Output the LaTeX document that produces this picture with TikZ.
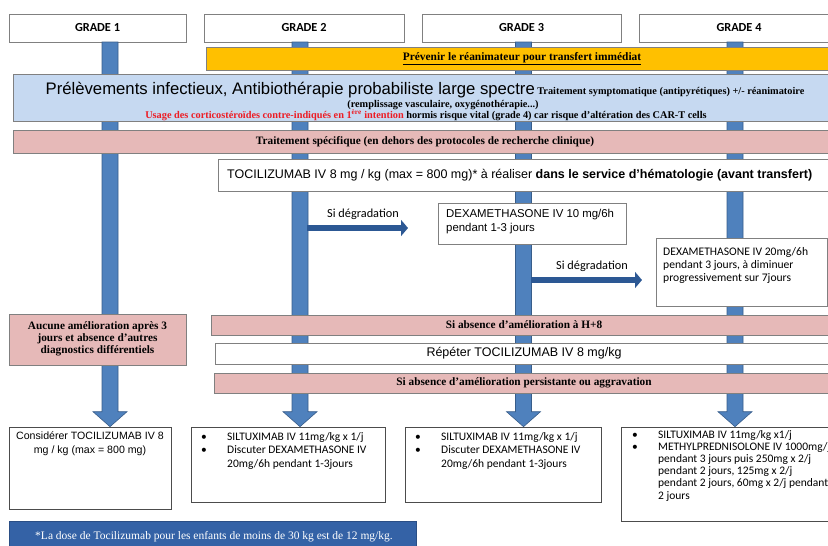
\documentclass[tikz,border=0pt]{standalone}
\usepackage{fontspec}
\setmainfont{Liberation Serif}
\newfontfamily\arial{Liberation Sans}
\newfontfamily\calibri{Carlito}
\usetikzlibrary{positioning,calc,arrows.meta}
\definecolor{barblue}{RGB}{79,129,189}
\definecolor{bardark}{RGB}{56,93,138}
\definecolor{arrowblue}{RGB}{44,88,148}
\definecolor{warnorange}{RGB}{255,192,0}
\definecolor{infoblue}{RGB}{198,217,241}
\definecolor{pinkfill}{RGB}{230,185,184}
\definecolor{boxgray}{RGB}{128,128,128}
\definecolor{footblue}{RGB}{52,98,166}
\definecolor{alertred}{RGB}{237,28,36}

\newcommand\bul{\makebox[26pt][l]{\textbullet}}
\newcommand\ind{\hspace*{26pt}}
% block arrow along a grade column
\newcommand\colarrow[2]{%
  \filldraw[fill=barblue, draw=bardark, line width=0.6pt]
    ($(#1)+(-8,0)$) -- ($(#2)+(-8,-15)$) -- ($(#2)+(-17,-15)$) -- (#2)
    -- ($(#2)+(17,-15)$) -- ($(#2)+(8,-15)$) -- ($(#1)+(8,0)$) -- cycle;}

\begin{document}
\begin{tikzpicture}[
    x=1pt, y=-1pt,
    grade/.style={rectangle, draw=boxgray, fill=white, line width=0.6pt, minimum width=#1, minimum height=28pt, inner sep=0pt, font=\calibri\bfseries\fontsize{12.3}{14}\selectfont},
    grade/.default=200pt,
    warnbar/.style={rectangle, draw=boxgray, fill=warnorange, line width=0.6pt, inner sep=0pt},
    infobox/.style={rectangle, draw=boxgray, fill=infoblue, line width=0.6pt, inner sep=0pt},
    pinkbar/.style={rectangle, draw=boxgray, fill=pinkfill, line width=0.6pt, inner sep=0pt},
    whitebox/.style={rectangle, draw=boxgray, fill=white, line width=0.6pt, inner sep=0pt},
    bulletbox/.style={rectangle, draw=black!70, fill=white, line width=0.6pt, inner sep=0pt},
    serifbold/.style={font=\bfseries\fontsize{11.3}{12}\selectfont},
    txt/.style={inner sep=0pt, align=left},
    degarrow/.style={draw=arrowblue, line width=6pt, -{Triangle[length=7pt,width=16pt]}},
    degtext/.style={font=\calibri\fontsize{12.3}{14}\selectfont, inner sep=0pt}
]
\useasboundingbox (0,0) rectangle (828,546);

% grade headers
\node[grade=177pt] (g1) at (97.5,28) {GRADE 1};
\node[grade=200pt] (g2) at (304,28) {GRADE 2};
\node[grade=199pt] (g3) at (521.5,28) {GRADE 3};
\node[grade=200pt] (g4) at (739,28) {GRADE 4};

% bottom boxes (placed first so the columns can end on them)
\node[bulletbox, minimum width=162pt, minimum height=82pt] (b1) at (90,468) {};
\node[bulletbox, minimum width=194pt, minimum height=75pt] (b2) at (288,464.5) {};
\node[bulletbox, minimum width=196pt, minimum height=75pt] (b3) at (503,464.5) {};
\node[bulletbox, minimum width=219pt, minimum height=94pt] (b4) at (730.5,474) {};

% columns
\coordinate (c1) at (110,42);
\coordinate (c2) at (300,42);
\coordinate (c3) at (523.5,42);
\coordinate (c4) at (735,42);
\colarrow{c1}{c1 |- b1.north}
\colarrow{c2}{c2 |- b2.north}
\colarrow{c3}{c3 |- b3.north}
\colarrow{c4}{c4 |- b4.north}

% common bars
\node[warnbar, minimum width=632pt, minimum height=23pt] (warn) at (522,58.5) {};
\node[font=\bfseries\fontsize{11.4}{12}\selectfont, inner sep=0pt] (warntxt) at (522,58.5) {\underline{Prévenir le réanimateur pour transfert immédiat}};

\node[infobox, minimum width=834pt, minimum height=47pt] (info) at (430,97.5) {};
\node[txt, anchor=base] (info1) at (425,94) {{\arial\fontsize{16.7}{18}\selectfont Prélèvements infectieux, Antibiothérapie probabiliste large spectre} {\bfseries\fontsize{10.3}{11}\selectfont Traitement symptomatique (antipyrétiques) +/- réanimatoire}};
\node[txt, anchor=base, font=\bfseries\fontsize{10.3}{11}\selectfont] (info2) at (443,107) {(remplissage vasculaire, oxygénothérapie...)};
\node[txt, anchor=base, font=\bfseries\fontsize{10.3}{11}\selectfont] (info3) at (426,118.5) {\textcolor{alertred}{Usage des corticostéroïdes contre-indiqués en 1\textsuperscript{ère} intention} hormis risque vital (grade 4) car risque d'altération des CAR-T cells};

\node[pinkbar, minimum width=834pt, minimum height=23pt] (spec) at (430,141.5) {};
\node[serifbold, inner sep=0pt] (spectxt) at (425,141.5) {Traitement spécifique (en dehors des protocoles de recherche clinique)};

\node[whitebox, minimum width=622pt, minimum height=32pt] (toci) at (529,175) {};
\node[txt, anchor=west, font=\arial\fontsize{12.5}{14}\selectfont] (tocitxt) at (227,175) {TOCILIZUMAB IV 8 mg / kg (max = 800 mg)* à réaliser \textbf{dans le service d’hématologie (avant transfert)}};

% escalation grade 3 / grade 4
\node[whitebox, minimum width=188pt, minimum height=41pt] (dexa1) at (532,223.5) {};
\node[txt, anchor=north west, font=\arial\fontsize{11.4}{14}\selectfont] (dexa1txt) at (446,209) {DEXAMETHASONE IV 10 mg/6h\\pendant 1-3 jours};
\coordinate (d1s) at (307,228);
\coordinate (d1e) at (408,228);
\draw[degarrow] (d1s) -- (d1e);
\node[degtext] (deg1) at (363,214) {Si dégradation};

\node[whitebox, minimum width=171pt, minimum height=68pt] (dexa2) at (741.5,272) {};
\node[txt, anchor=north west, font=\calibri\fontsize{11.6}{13}\selectfont] (dexa2txt) at (663,247) {DEXAMETHASONE IV 20mg/6h\\pendant 3 jours, à diminuer\\progressivement sur 7jours};
\coordinate (d2s) at (531,280);
\coordinate (d2e) at (642,280);
\draw[degarrow] (d2s) -- (d2e);
\node[degtext] (deg2) at (592,266) {Si dégradation};

% grade 1 condition
\node[pinkbar, minimum width=177pt, minimum height=51pt] (noimp) at (97.5,339.5) {};
\node[align=center, font=\bfseries\fontsize{11.3}{12}\selectfont, inner sep=0pt] (noimptxt) at (97.5,339) {Aucune amélioration après 3\\jours et absence d'autres\\diagnostics différentiels};

% grades 2-4 conditions
\node[pinkbar, minimum width=629pt, minimum height=20pt] (h8) at (525.5,325) {};
\node[serifbold, inner sep=0pt] (h8txt) at (524,325) {Si absence d'amélioration à H+8};
\node[whitebox, minimum width=625pt, minimum height=21pt] (rep) at (527.5,353.5) {};
\node[font=\arial\fontsize{12.5}{14}\selectfont, inner sep=0pt] (reptxt) at (524,353.5) {Répéter TOCILIZUMAB IV 8 mg/kg};
\node[pinkbar, minimum width=626pt, minimum height=20pt] (pers) at (527,383) {};
\node[serifbold, inner sep=0pt] (perstxt) at (524,383) {Si absence d'amélioration persistante ou aggravation};

% bottom texts
\node[align=center, anchor=north, font=\arial\fontsize{10.6}{14}\selectfont, inner sep=0pt] (b1txt) at (90,431) {Considérer TOCILIZUMAB IV 8\\mg / kg (max = 800 mg)};
\node[txt, anchor=north west, font=\calibri\fontsize{11.5}{13.5}\selectfont] (b2txt) at (201,432) {\bul SILTUXIMAB IV 11mg/kg x 1/j\\\bul Discuter DEXAMETHASONE IV\\\ind 20mg/6h pendant 1-3jours};
\node[txt, anchor=north west, font=\calibri\fontsize{11.5}{13.5}\selectfont] (b3txt) at (415,432) {\bul SILTUXIMAB IV 11mg/kg x 1/j\\\bul Discuter DEXAMETHASONE IV\\\ind 20mg/6h pendant 1-3jours};
\node[txt, anchor=north west, font=\calibri\fontsize{11.5}{12.2}\selectfont] (b4txt) at (632,430) {\bul SILTUXIMAB IV 11mg/kg x1/j\\\bul METHYLPREDNISOLONE IV 1000mg/j\\\ind pendant 3 jours puis 250mg x 2/j\\\ind pendant 2 jours, 125mg x 2/j\\\ind pendant 2 jours, 60mg x 2/j pendant\\\ind 2 jours};

% footnote
\node[rectangle, fill=footblue, draw=footblue!80!black, minimum width=407pt, minimum height=40pt, inner sep=0pt] (foot) at (212.5,541) {};
\node[text=white, font=\fontsize{11.5}{12}\selectfont, inner sep=0pt] (foottxt) at (214,537) {*La dose de Tocilizumab pour les enfants de moins de 30 kg est de 12 mg/kg.};

\end{tikzpicture}
\end{document}
